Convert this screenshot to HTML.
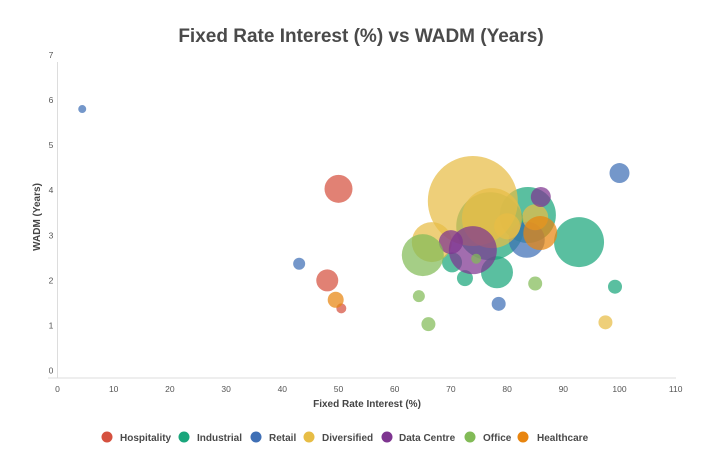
<!DOCTYPE html>
<html><head><meta charset="utf-8"><style>
body{margin:0;background:#fff;font-family:"Liberation Sans",sans-serif;}
svg text{font-family:"Liberation Sans",sans-serif;}
</style></head><body>
<svg id="chart" width="718" height="466" xmlns="http://www.w3.org/2000/svg">
<text x="361" y="42" text-anchor="middle" font-size="19" font-weight="bold" fill="#4a4a4a">Fixed Rate Interest (%) vs WADM (Years)</text>
<g id="axes"></g>
<g id="bubbles"></g>
<text x="367" y="407" text-anchor="middle" font-size="10" font-weight="bold" fill="#444">Fixed Rate Interest (%)</text>
<text transform="translate(40,217) rotate(-90)" text-anchor="middle" font-size="10" font-weight="bold" fill="#444">WADM (Years)</text>
<g id="legend"></g>
</svg>
<script>
const categories=["Hospitality","Industrial","Retail","Diversified","Data Centre","Office","Healthcare"];
const colors=["#d5513f","#1aa67c","#3f6fb5","#e7bd45","#7e3590","#82bb57","#e8850f"];
const xTicks=[0,10,20,30,40,50,60,70,80,90,100,110];
const yTicks=[0,1,2,3,4,5,6,7];
const seriesX=[[50,48,50.5],[77,83.7,92.8,78.2,72.5,70.2,99.2],[4.4,43,78.5,100,83.5],[73.9,77.3,66.6,97.5,85,80],[73.9,70,86],[65,64.3,66,85,74.5],[85.9,49.5]];
const seriesY=[[4.03,2.0,1.38],[3.2,3.45,2.85,2.18,2.05,2.4,1.86],[5.8,2.37,1.48,4.38,2.9],[3.76,3.38,2.85,1.07,3.4,3.2],[2.67,2.85,3.85],[2.56,1.65,1.03,1.93,2.48],[3.05,1.57]];
const seriesSize=[[14,11,5],[34,28,25,16,8,10,7],[4,6,7,10,18],[45,30,20,7,13,13],[24,12,10],[21,6,7,7,5],[17,8]];
const NS="http://www.w3.org/2000/svg";
const xs=v=>57.5+v*5.62, ys=v=>370.6-v*45.1;
const axes=document.getElementById('axes');
function mk(tag,attrs,parent){const e=document.createElementNS(NS,tag);for(const k in attrs)e.setAttribute(k,attrs[k]);parent.appendChild(e);return e;}
let l=mk('line',{x1:57.5,y1:62,x2:57.5,y2:378,stroke:'#ddd'},axes);


l=mk('line',{x1:48,y1:378,x2:676,y2:378,stroke:'#ddd'},axes);


xTicks.forEach(t=>{const e=mk('text',{x:xs(t),y:392,'text-anchor':'middle','font-size':'8.5',fill:'#555'},axes);e.textContent=t;

});
yTicks.forEach(t=>{const e=mk('text',{x:51,y:ys(t)+3,'text-anchor':'middle','font-size':'8.5',fill:'#555'},axes);e.textContent=t;

});
const bg=document.getElementById('bubbles');
categories.forEach((c,i)=>{seriesX[i].forEach((x,j)=>{const e=mk('circle',{cx:xs(x),cy:ys(seriesY[i][j]),r:seriesSize[i][j],fill:colors[i],'fill-opacity':0.72},bg);

});});
const lg=document.getElementById('legend');
const lx=[107,184,256,309,387,470,523];
const tx=[120,197,269,322,399,483,537];
categories.forEach((c,i)=>{const g=mk('g',{},lg);


mk('circle',{cx:lx[i],cy:437,r:5.5,fill:colors[i]},g);
const t=mk('text',{x:tx[i],y:441,'font-size':'10','font-weight':'bold',fill:'#4a4a4a'},g);t.textContent=c;});
</script>
</body></html>
